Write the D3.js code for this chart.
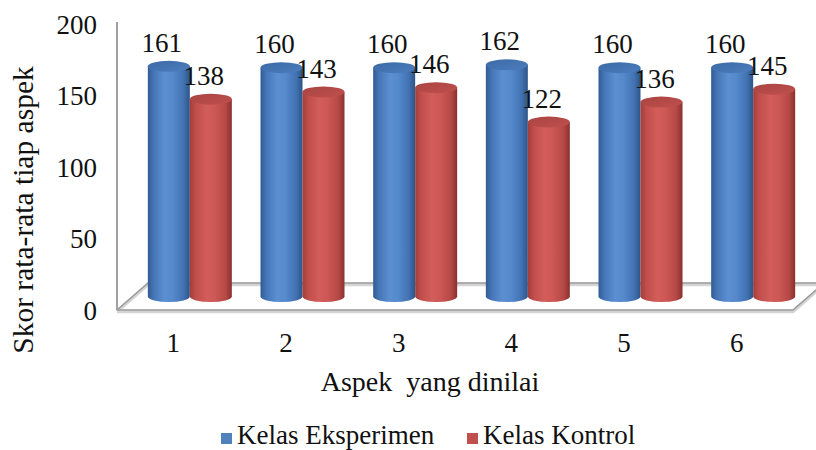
<!DOCTYPE html>
<html>
<head>
<meta charset="utf-8">
<script src="https://cdn.jsdelivr.net/npm/d3@7"></script>
<style>
  html, body { margin: 0; padding: 0; background: #fff; }
  svg { display: block; }
  text { font-family: "Liberation Serif", "Times New Roman", serif; fill: #111; }
</style>
</head>
<body>
<svg id="chart" width="816" height="450"></svg>
<script>
// Data
const categories = ["1", "2", "3", "4", "5", "6"];
const seriesNames = ["Kelas Eksperimen", "Kelas Kontrol"];
const eksperimen = [161, 160, 160, 162, 160, 160];
const kontrol = [138, 143, 146, 122, 136, 145];
const yTicks = [0, 50, 100, 150, 200];

const seriesValues = [eksperimen, kontrol];

const svg = d3.select("#chart");
const SERIF = "Liberation Serif, Times New Roman, serif";

// Front plane of the 3D box
const left = 117, right = 793, floorY = 310, topY = 24;
// Oblique depth of the box
const depthX = 31, depthY = -27;

const x = d3.scaleBand().domain(categories).range([left, right]).padding(0);
const y = d3.scaleLinear().domain([0, 200]).range([floorY, topY]);

// gradients for the cylinder bodies and caps
const defs = svg.append("defs");
const palettes = [
  { id: "blue", stops: ["#2f5c94", "#4677b8", "#5b8fd2", "#5489cc", "#4272b2", "#2c5588"], top: ["#3c6aa6", "#4c7dbd"] },
  { id: "red",  stops: ["#a13e3b", "#c24f4c", "#d25d5a", "#cd5754", "#b54946", "#8a302e"], top: ["#a84442", "#c0504d"] }
];
palettes.forEach(p => {
  const g = defs.append("linearGradient").attr("id", "body-" + p.id)
    .attr("x1", "0%").attr("x2", "100%").attr("y1", "0%").attr("y2", "0%");
  const offs = [0, 0.15, 0.4, 0.6, 0.85, 1];
  p.stops.forEach((c, i) => g.append("stop").attr("offset", offs[i]).attr("stop-color", c));
  const t = defs.append("linearGradient").attr("id", "top-" + p.id)
    .attr("x1", "0%").attr("x2", "100%").attr("y1", "0%").attr("y2", "100%");
  t.append("stop").attr("offset", 0).attr("stop-color", p.top[0]);
  t.append("stop").attr("offset", 1).attr("stop-color", p.top[1]);
});

// Floor of the box
const floor = svg.append("g").attr("fill", "none");
const fl = [
  [left, floorY], [right, floorY], [right + depthX, floorY + depthY], [left + depthX, floorY + depthY]
];
floor.append("path")
  .attr("d", d3.line()([fl[0], fl[1], fl[2], fl[3], fl[0]]))
  .attr("stroke", "#d4d4d4").attr("stroke-width", 3.5).attr("transform", "translate(0,1.5)");
floor.append("path")
  .attr("d", d3.line()([fl[0], fl[1], fl[2], fl[3], fl[0]]))
  .attr("stroke", "#9b9b9b").attr("stroke-width", 1.6);

// vertical axis line
svg.append("line")
  .attr("x1", left).attr("x2", left).attr("y1", topY - 2).attr("y2", floorY)
  .attr("stroke", "#a0a0a0").attr("stroke-width", 2);

// Cylinders
const barW = 42, rx = barW / 2, ry = 5.5;
const midDX = depthX / 2, midDY = depthY / 2;
const bars = svg.append("g");
const labels = [];
categories.forEach((c, i) => {
  const cx0 = x(c) + x.bandwidth() / 2 + midDX + 1;
  seriesValues.forEach((vals, s) => {
    const v = vals[i];
    const cx = cx0 + (s === 0 ? -barW / 2 : barW / 2);
    const yb = y(0) + midDY;
    const yt = y(v) + midDY;
    const p = palettes[s];
    const g = bars.append("g");
    // body: side of the cylinder with its rounded bottom
    g.append("path")
      .attr("d", `M${cx - rx},${yt} L${cx - rx},${yb} A${rx},${ry} 0 0 0 ${cx + rx},${yb} L${cx + rx},${yt} Z`)
      .attr("fill", `url(#body-${p.id})`);
    // top cap
    g.append("ellipse")
      .attr("cx", cx).attr("cy", yt).attr("rx", rx).attr("ry", ry)
      .attr("fill", `url(#top-${p.id})`);
    labels.push({ x: cx - 7, y: yt - ry - 9, text: String(v) });
  });
});

// Value labels
svg.append("g").selectAll("text").data(labels).join("text")
  .attr("x", d => d.x).attr("y", d => d.y)
  .attr("text-anchor", "middle").attr("font-size", 27).attr("font-family", SERIF)
  .text(d => d.text);

// Y axis tick labels
const yAxis = d3.axisLeft(y).tickValues(yTicks).tickSize(0).tickPadding(20);
const ya = svg.append("g").attr("transform", `translate(${left},0)`).call(yAxis);
ya.select(".domain").remove();
ya.selectAll("text")
  .attr("font-family", SERIF)
  .attr("font-size", 27).attr("fill", "#111").attr("dy", "0.34em");

// X axis category labels
svg.append("g").selectAll("text").data(categories).join("text")
  .attr("x", d => x(d) + x.bandwidth() / 2)
  .attr("y", 352)
  .attr("text-anchor", "middle").attr("font-size", 27).attr("font-family", SERIF)
  .text(d => d);

// Axis titles
svg.append("text")
  .attr("x", 430).attr("y", 391)
  .attr("text-anchor", "middle").attr("font-size", 28).attr("font-family", SERIF)
  .attr("xml:space", "preserve")
  .text("Aspek  yang dinilai");

svg.append("text")
  .attr("transform", "translate(33,210) rotate(-90)")
  .attr("text-anchor", "middle").attr("font-size", 29.5).attr("font-family", SERIF)
  .text("Skor rata-rata tiap aspek");

// Legend
const legend = svg.append("g");
const legendItems = [
  { name: seriesNames[0], color: "#4f81bd", x: 221 },
  { name: seriesNames[1], color: "#c0504d", x: 467 }
];
legendItems.forEach(it => {
  legend.append("rect").attr("x", it.x).attr("y", 433).attr("width", 11).attr("height", 11).attr("fill", it.color);
  legend.append("text").attr("x", it.x + 16).attr("y", 444)
    .attr("font-size", 27).attr("font-family", SERIF).text(it.name);
});
</script>
</body>
</html>
